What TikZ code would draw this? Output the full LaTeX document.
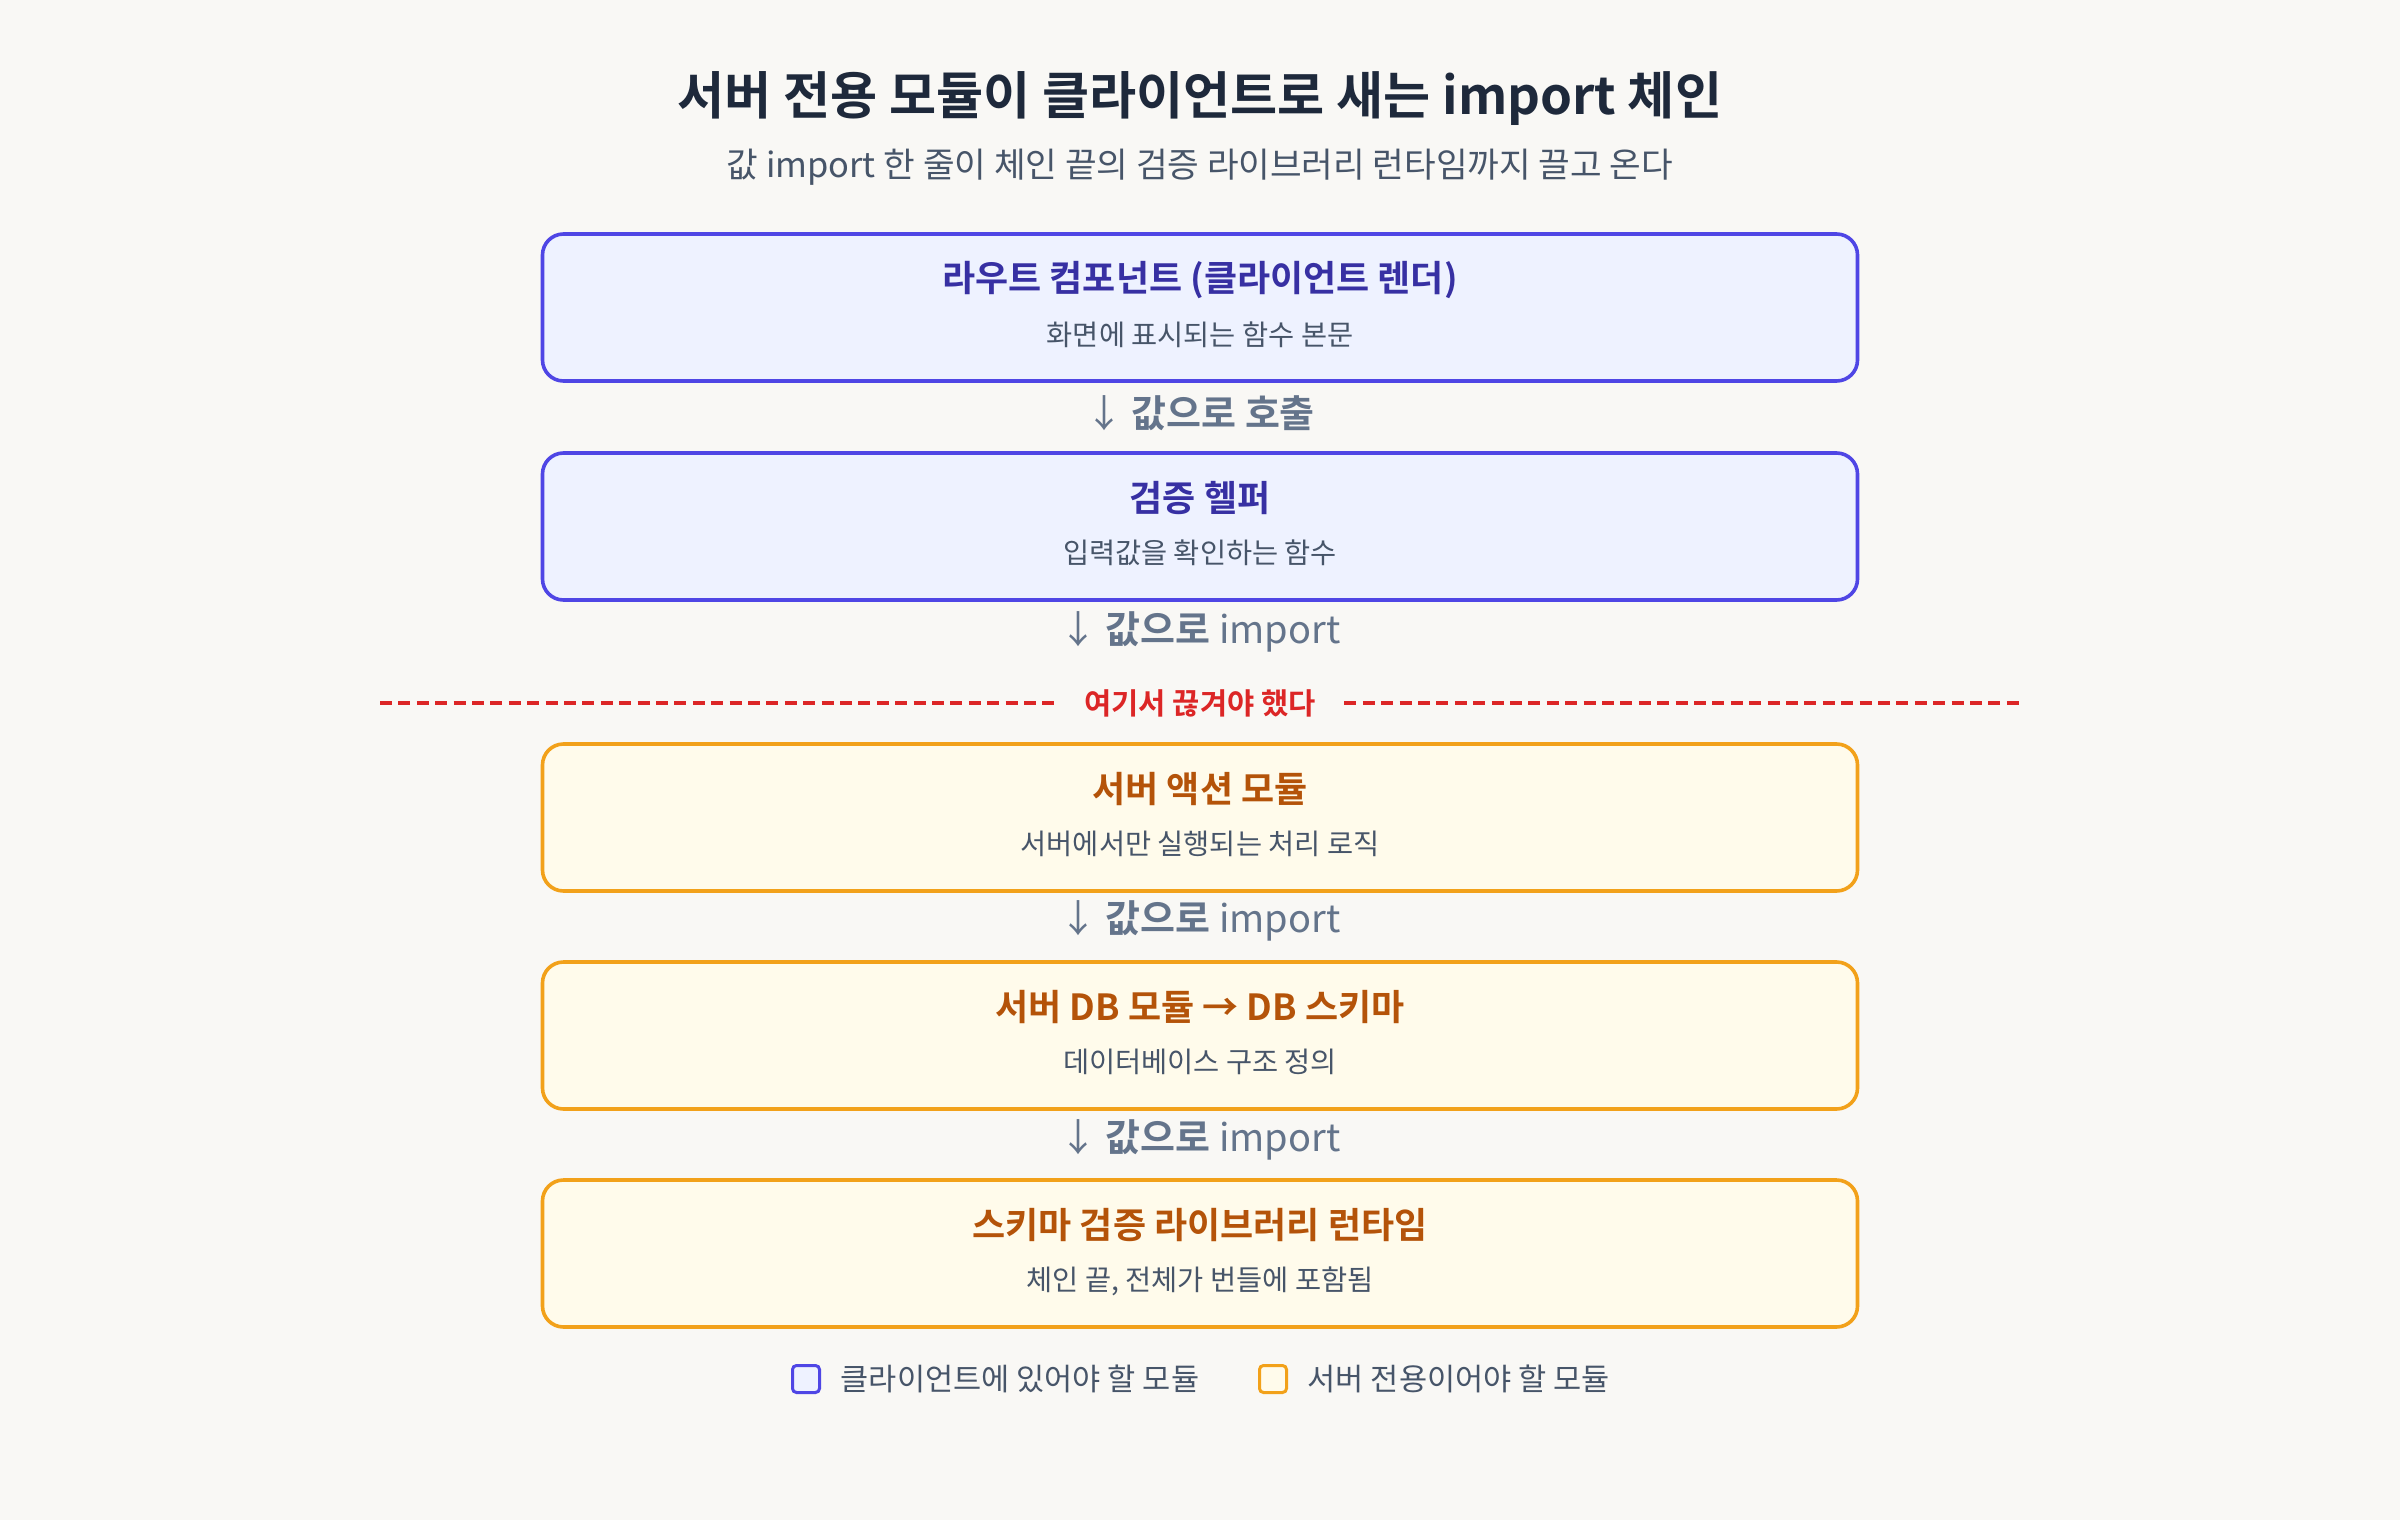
\documentclass[tikz,border=0pt]{standalone}
\usepackage{fontspec}
\setmainfont{Noto Sans CJK KR}[BoldFont={Noto Sans CJK KR Bold}]
\usetikzlibrary{positioning}

\definecolor{bgpaper}{HTML}{F9F8F5}
\definecolor{clientline}{HTML}{4F46E5}
\definecolor{clientfill}{HTML}{EEF2FF}
\definecolor{clienttext}{HTML}{3730A3}
\definecolor{serverline}{HTML}{F2A11A}
\definecolor{serverfill}{HTML}{FFFBEB}
\definecolor{servertext}{HTML}{B45309}
\definecolor{headtext}{HTML}{1E293B}
\definecolor{bodytext}{HTML}{475569}
\definecolor{edgetext}{HTML}{64748B}
\definecolor{cutred}{HTML}{DC2626}

\begin{document}
\begin{tikzpicture}[x=0.25pt,y=-0.25pt,
    modbox/.style={draw, rounded corners=5.25pt, line width=0.9pt, minimum width=328.75pt, minimum height=36.75pt, inner sep=0pt},
    clientbox/.style={modbox, draw=clientline, fill=clientfill},
    serverbox/.style={modbox, draw=serverline, fill=serverfill},
    modhead/.style={inner sep=0pt, font=\fontsize{9}{11}\selectfont\bfseries},
    modbody/.style={inner sep=0pt, text=bodytext, font=\fontsize{7.1}{9}\selectfont},
    edgelabel/.style={inner sep=0pt, text=edgetext, font=\fontsize{9.5}{11}\selectfont},
    cutline/.style={cutred, line width=1.15pt, dash pattern=on 3pt off 1.6pt},
    legendbox/.style={draw, rounded corners=1pt, line width=0.75pt, minimum size=6.75pt, inner sep=0pt},
    legendtext/.style={inner sep=0pt, text=bodytext, font=\fontsize{7.65}{9}\selectfont}]

    \fill[bgpaper] (0,0) rectangle (2400,1520);
    \useasboundingbox (0,0) rectangle (2400,1520);

    % heading
    \node[inner sep=0pt, text=headtext, font=\fontsize{12.8}{15}\selectfont\bfseries] (title) at (1200,99) {서버 전용 모듈이 클라이언트로 새는 import 체인};
    \node[inner sep=0pt, text=bodytext, font=\fontsize{8.6}{10}\selectfont] (subtitle) at (1200,167) {값 import 한 줄이 체인 끝의 검증 라이브러리 런타임까지 끌고 온다};

    % client side
    \node[clientbox] (route) at (1200,307.5) {};
    \node[modhead, text=clienttext] (routehead) at (1200,280) {라우트 컴포넌트 (클라이언트 렌더)};
    \node[modbody] (routebody) at (1200,335) {화면에 표시되는 함수 본문};

    \node[edgelabel] (call) at (1200,413) {↓ {\bfseries 값으로 호출}};

    \node[clientbox] (helper) at (1200,526.5) {};
    \node[modhead, text=clienttext] (helperhead) at (1200,498) {검증 헬퍼};
    \node[modbody] (helperbody) at (1200,553) {입력값을 확인하는 함수};

    \node[edgelabel] (imp1) at (1200,632) {↓ {\bfseries 값으로} import};

    % the cut
    \node[inner sep=0pt, inner xsep=7pt, text=cutred, font=\fontsize{7.4}{9}\selectfont\bfseries] (cut) at (1200,703) {여기서 끊겨야 했다};
    \coordinate (cutL) at (380,703);
    \coordinate (cutR) at (2020,703);
    \draw[cutline] (cutL) -- (cut.west);
    \draw[cutline] (cut.east) -- (cutR);

    % server side
    \node[serverbox] (action) at (1200,817.5) {};
    \node[modhead, text=servertext] (actionhead) at (1200,789) {서버 액션 모듈};
    \node[modbody] (actionbody) at (1200,844) {서버에서만 실행되는 처리 로직};

    \node[edgelabel] (imp2) at (1200,921) {↓ {\bfseries 값으로} import};

    \node[serverbox] (db) at (1200,1035.5) {};
    \node[modhead, text=servertext] (dbhead) at (1200,1007) {서버 DB 모듈 → DB 스키마};
    \node[modbody] (dbbody) at (1200,1062) {데이터베이스 구조 정의};

    \node[edgelabel] (imp3) at (1200,1140) {↓ {\bfseries 값으로} import};

    \node[serverbox] (runtime) at (1200,1253.5) {};
    \node[modhead, text=servertext] (runtimehead) at (1200,1225) {스키마 검증 라이브러리 런타임};
    \node[modbody] (runtimebody) at (1200,1281) {체인 끝, 전체가 번들에 포함됨};

    % legend
    \node[legendbox, draw=clientline, fill=clientfill] (keyclient) at (806,1379) {};
    \node[legendtext, right=4.75pt of keyclient] (keyclienttext) {클라이언트에 있어야 할 모듈};
    \node[legendbox, draw=serverline, fill=serverfill] (keyserver) at (1273,1379) {};
    \node[legendtext, right=4.75pt of keyserver] (keyservertext) {서버 전용이어야 할 모듈};
\end{tikzpicture}
\end{document}
